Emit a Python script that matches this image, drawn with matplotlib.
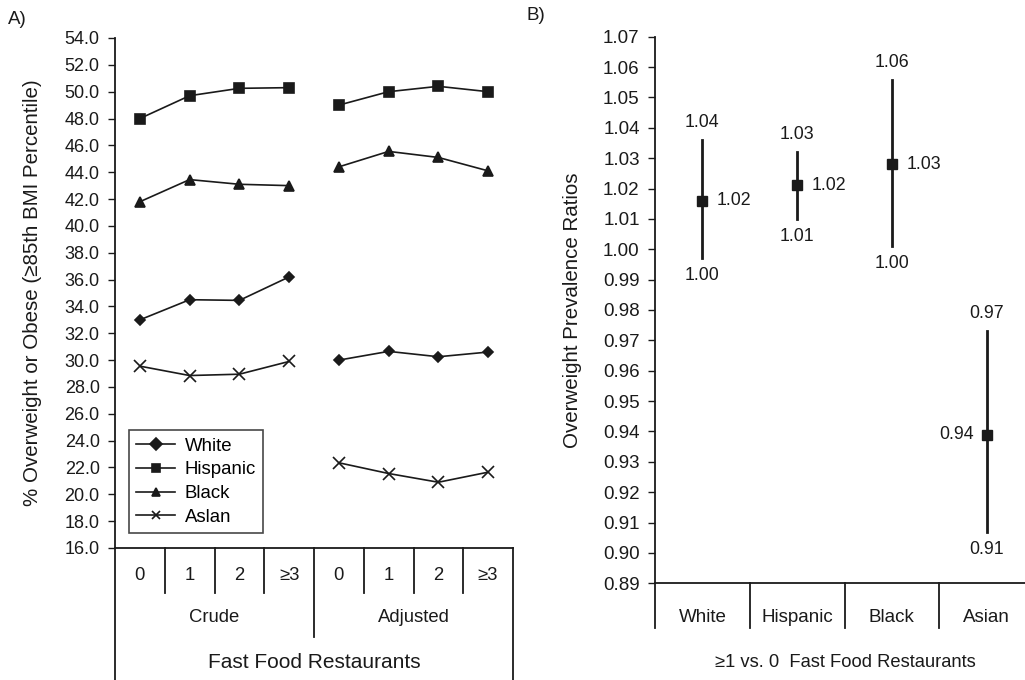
import matplotlib
matplotlib.use('Agg')
import matplotlib.pyplot as plt
from matplotlib.ticker import FormatStrFormatter

plt.rcParams['font.family'] = ['Liberation Sans', 'DejaVu Sans']

# panel A data
counts = ['0', '1', '2', '\u22653']
groups = ['Crude', 'Adjusted']
races = ['White', 'Hispanic', 'Black', 'Aslan']
white = [33.0, 34.5, 34.45, 36.2, 30.0, 30.65, 30.25, 30.6]
hispanic = [48.0, 49.7, 50.25, 50.3, 49.0, 50.0, 50.4, 50.0]
black = [41.8, 43.45, 43.1, 43.0, 44.4, 45.55, 45.1, 44.1]
asian = [29.55, 28.85, 28.95, 29.9, 22.35, 21.55, 20.9, 21.65]

# panel B data
groups_b = ['White', 'Hispanic', 'Black', 'Asian']
pr = [1.016, 1.021, 1.028, 0.939]
pr_lo = [0.997, 1.010, 1.001, 0.907]
pr_hi = [1.036, 1.032, 1.0556, 0.973]

W = 1025.0
H = 680.0
INK = '#1a1a1a'


def box(x0, y0, x1, y1):
	# pixel box (top-left origin) -> figure fraction
	return [x0 / W, 1 - y1 / H, (x1 - x0) / W, (y1 - y0) / H]


fig = plt.figure(figsize=(10.25, 6.8), dpi=100)

# ---------- A ----------
ax = fig.add_axes(box(115, 38, 513, 548))
n = len(counts) * len(groups)
xs = [i + 0.5 for i in range(n)]
series = [white, hispanic, black, asian]
markers = ['D', 's', '^', 'x']
msizes = [5, 7, 7, 8]
for k in range(len(series)):
	for g in range(len(groups)):
		a = g * len(counts)
		b = a + len(counts)
		ax.plot(xs[a:b], series[k][a:b], color=INK, lw=1.2, marker=markers[k],
				ms=msizes[k], mew=1.2, mfc=INK, mec=INK,
				label=races[k] if g == 0 else None)
ax.set_xlim(0, n)
ax.set_ylim(16, 54)
ax.set_yticks([16 + 2 * i for i in range(20)])
ax.yaxis.set_major_formatter(FormatStrFormatter('%.1f'))
ax.set_xticks([])
for s in ['top', 'right']:
	ax.spines[s].set_visible(False)
for s in ['left', 'bottom']:
	ax.spines[s].set_color(INK)
	ax.spines[s].set_linewidth(1.3)
ax.tick_params(axis='y', direction='out', length=5, width=1, pad=6, labelsize=13, colors=INK)
ax.set_ylabel('% Overweight or Obese (\u226585th BMI Percentile)', fontsize=14.8, color=INK)
ax.yaxis.set_label_coords(-0.183, 0.5)

tr = ax.get_xaxis_transform()
ph = 510.0
for i in range(1, n):
	low = -89 / ph if i == len(counts) else -45 / ph
	ax.plot([i, i], [0, low], transform=tr, color=INK, lw=1.3, clip_on=False)
for i in [0, n]:
	ax.plot([i, i], [0, -140 / ph], transform=tr, color=INK, lw=1.3, clip_on=False)
for i in range(n):
	ax.text(xs[i], -27 / ph, counts[i % len(counts)], transform=tr, ha='center', va='center', fontsize=13.3, color=INK)
for g in range(len(groups)):
	ax.text(len(counts) * (g + 0.5), -70 / ph, groups[g], transform=tr, ha='center', va='center', fontsize=13.3, color=INK)
ax.text(n / 2, -114 / ph, 'Fast Food Restaurants', transform=tr, ha='center', va='center', fontsize=15, color=INK)

leg = ax.legend(loc='lower left', bbox_to_anchor=(0.035, 0.029), borderaxespad=0,
				fancybox=False, edgecolor=INK, fontsize=13.4, handlelength=2.1,
				labelspacing=0.36, handletextpad=0.5, borderpad=0.4)
leg.get_frame().set_linewidth(1.2)
for h in leg.legend_handles:
	h.set_markersize(6)

fig.text(8 / W, 1 - 20 / H, 'A)', fontsize=13.5, va='center', ha='left', color=INK)

# ---------- B ----------
bx = fig.add_axes(box(655, 36.7, 1034, 583.3))
xb = [i + 0.5 for i in range(len(groups_b))]
for i in range(len(groups_b)):
	bx.plot([xb[i], xb[i]], [pr_lo[i], pr_hi[i]], color=INK, lw=2)
	bx.plot(xb[i], pr[i], marker='s', ms=7, color=INK)
	bx.text(xb[i], pr_hi[i] + 0.0030, '%.2f' % pr_hi[i], ha='center', va='bottom', fontsize=12.8, color=INK)
	bx.text(xb[i], pr_lo[i] - 0.0030, '%.2f' % pr_lo[i], ha='center', va='top', fontsize=12.8, color=INK)
	if i == 3:
		bx.text(xb[i] - 0.13, pr[i], '%.2f' % pr[i], ha='right', va='center', fontsize=12.8, color=INK)
	else:
		bx.text(xb[i] + 0.155, pr[i], '%.2f' % pr[i], ha='left', va='center', fontsize=12.8, color=INK)
bx.set_xlim(0, len(groups_b))
bx.set_ylim(0.89, 1.07)
bx.set_yticks([0.89 + 0.01 * i for i in range(19)])
bx.yaxis.set_major_formatter(FormatStrFormatter('%.2f'))
bx.set_xticks([])
for s in ['top', 'right']:
	bx.spines[s].set_visible(False)
for s in ['left', 'bottom']:
	bx.spines[s].set_color(INK)
	bx.spines[s].set_linewidth(1.3)
bx.tick_params(axis='y', direction='out', length=5, width=1, pad=6, labelsize=13.5, colors=INK)
bx.set_ylabel('Overweight Prevalence Ratios', fontsize=14.8, color=INK)
bx.yaxis.set_label_coords(-0.193, 0.5)

trb = bx.get_xaxis_transform()
phb = 546.6
for i in range(len(groups_b)):
	bx.plot([i, i], [0, -45 / phb], transform=trb, color=INK, lw=1.3, clip_on=False)
	bx.text(xb[i], -34 / phb, groups_b[i], transform=trb, ha='center', va='center', fontsize=13.5, color=INK)
bx.text(190 / 379, -79 / phb, '\u22651 vs. 0  Fast Food Restaurants', transform=bx.transAxes,
		ha='center', va='center', fontsize=13.2, color=INK)

fig.text(527 / W, 1 - 15 / H, 'B)', fontsize=13.5, va='center', ha='left', color=INK)

fig.savefig('out.png', dpi=100)
